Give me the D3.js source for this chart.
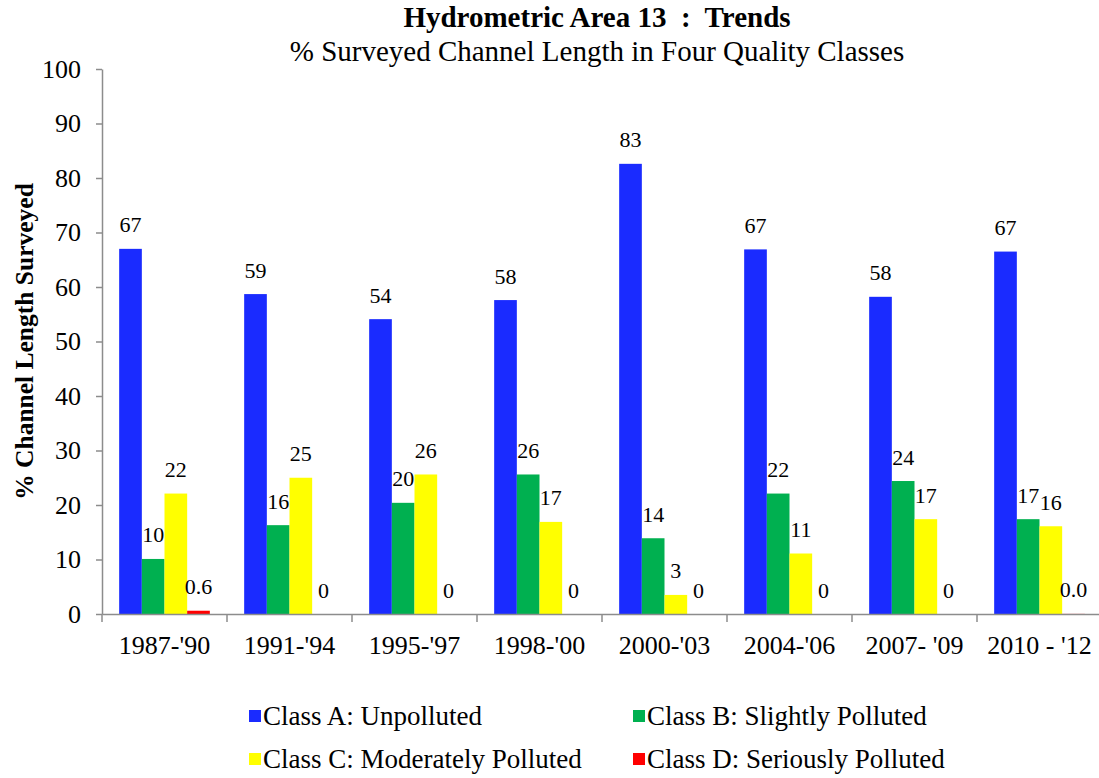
<!DOCTYPE html>
<html><head><meta charset="utf-8">
<script src="https://cdn.jsdelivr.net/npm/d3@7"></script>
<style>
html,body{margin:0;padding:0;background:#fff;}
svg{display:block;}
svg text{font-family:"Liberation Serif","Times New Roman",serif;}
</style></head>
<body><svg id="c" width="1099" height="778"></svg>
<script>
const categories = ["1987-'90","1991-'94","1995-'97","1998-'00","2000-'03","2004-'06","2007- '09","2010 - '12"];
const seriesNames = ["Class A: Unpolluted","Class B: Slightly Polluted","Class C: Moderately Polluted","Class D: Seriously Polluted"];
const classA = [67.0, 58.7, 54.1, 57.6, 82.6, 66.9, 58.2, 66.5];
const classB = [10.1, 16.3, 20.4, 25.6, 13.9, 22.1, 24.4, 17.4];
const classC = [22.1, 25.0, 25.6, 16.9, 3.5, 11.1, 17.4, 16.1];
const classD = [0.6, 0, 0, 0, 0, 0, 0, 0.02];
const labelsA = ["67","59","54","58","83","67","58","67"];
const labelsB = ["10","16","20","26","14","22","24","17"];
const labelsC = ["22","25","26","17","3","11","17","16"];
const labelsD = ["0.6","0","0","0","0","0","0","0.0"];
const yTicks = [0,10,20,30,40,50,60,70,80,90,100];
const colors = ["#1a2bff","#00b050","#ffff00","#ff0000"];

const values = [classA, classB, classC, classD];
const labels = [labelsA, labelsB, labelsC, labelsD];

const svg = d3.select("#c");
const mLeft = 102, mRight = 1102, mTop = 69, mBottom = 614;

const y = d3.scaleLinear().domain([0,100]).range([mBottom, mTop]);
const p = 0.2747;
const x0 = d3.scaleBand().domain(categories).range([mLeft, mRight]).paddingInner(p).paddingOuter(p/2);
const x1 = d3.scaleBand().domain(d3.range(4)).range([0, x0.bandwidth()]);
const step = x0.step();

// titles
svg.append("text").attr("x",597).attr("y",27).attr("text-anchor","middle")
  .attr("font-size",29).attr("font-weight","bold").attr("xml:space","preserve").text("Hydrometric Area 13  :  Trends");
svg.append("text").attr("x",597).attr("y",61).attr("text-anchor","middle")
  .attr("font-size",29).text("% Surveyed Channel Length in Four Quality Classes");

// bars
const g = svg.append("g");
categories.forEach((c,i)=>{
  values.forEach((arr,s)=>{
    const v = arr[i];
    const bx = x0(c)+x1(s);
    if (v > 0) {
      g.append("rect").attr("x",bx).attr("y",y(v)).attr("width",x1.bandwidth())
        .attr("height",mBottom - y(v)).attr("fill",colors[s]);
    }
    g.append("text").attr("x",bx + x1.bandwidth()/2).attr("y",y(v)-16.5)
      .attr("text-anchor","middle").attr("font-size",22).attr("fill","#000").text(labels[s][i]);
  });
});

// y axis
const ya = svg.append("g").attr("transform",`translate(${mLeft},0)`)
  .call(d3.axisLeft(y).tickValues(yTicks).tickSize(6).tickPadding(15).tickSizeOuter(0));
ya.select(".domain").attr("stroke","#8c8c8c").attr("stroke-width",1.5);
ya.selectAll(".tick line").attr("stroke","#8c8c8c").attr("stroke-width",1.5);
ya.selectAll(".tick text").attr("font-size",26).attr("fill","#000");

// x axis
const xa = svg.append("g").attr("transform",`translate(0,${mBottom})`)
  .call(d3.axisBottom(x0).tickSize(0).tickPadding(0).tickSizeOuter(0));
xa.select(".domain").attr("stroke","#8c8c8c").attr("stroke-width",1.5);
xa.selectAll(".tick text").attr("font-size",26).attr("fill","#000")
  .attr("dy",null).attr("y",40);
// category boundary ticks
xa.selectAll(".bt").data(categories).enter().append("line")
  .attr("x1",d=>x0(d)-x0.paddingOuter()*step).attr("x2",d=>x0(d)-x0.paddingOuter()*step)
  .attr("y1",0).attr("y2",8).attr("stroke","#8c8c8c").attr("stroke-width",1.5);

// y title
svg.append("text").attr("transform",`translate(33,${(mTop+mBottom)/2}) rotate(-90)`)
  .attr("text-anchor","middle").attr("font-size",25.5).attr("font-weight","bold")
  .text("% Channel Length Surveyed");

// legend
const legPos = [[249,716],[633,716],[249,759],[633,759]];
seriesNames.forEach((n,i)=>{
  const [lx,ly] = legPos[i];
  svg.append("rect").attr("x",lx).attr("y",ly-6).attr("width",12).attr("height",12).attr("fill",colors[i]);
  svg.append("text").attr("x",lx+14).attr("y",ly+9).attr("font-size",27).text(n);
});
</script></body></html>
